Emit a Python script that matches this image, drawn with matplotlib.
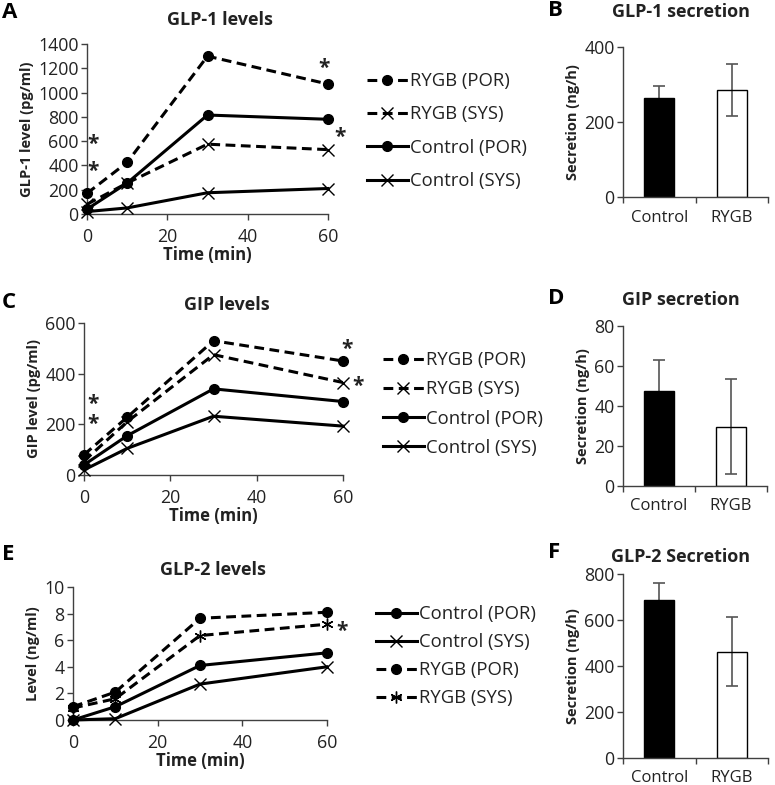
import matplotlib
matplotlib.use("Agg")
import matplotlib.pyplot as plt
from matplotlib.lines import Line2D

plt.rcParams['font.family'] = ['Open Sans', 'DejaVu Sans']

# time points (min)
time = [0, 10, 30, 60]

# GLP-1 levels (pg/ml)
glp1_rygb_por = [170, 425, 1300, 1070]
glp1_rygb_sys = [80, 255, 575, 530]
glp1_ctrl_por = [40, 255, 815, 780]
glp1_ctrl_sys = [20, 50, 175, 210]

# GIP levels (pg/ml)
gip_rygb_por = [80, 228, 530, 450]
gip_rygb_sys = [55, 210, 475, 365]
gip_ctrl_por = [40, 155, 340, 290]
gip_ctrl_sys = [20, 105, 232, 193]

# GLP-2 levels (ng/ml)
glp2_ctrl_por = [0, 1.0, 4.1, 5.05]
glp2_ctrl_sys = [0, 0.1, 2.7, 4.0]
glp2_rygb_por = [1.0, 2.1, 7.65, 8.1]
glp2_rygb_sys = [0.9, 1.6, 6.35, 7.2]

# secretion bars (ng/h)
groups = ["Control", "RYGB"]
glp1_sec = [265, 285]
glp1_sec_err = [32, 70]
gip_sec = [47.5, 29.6]
gip_sec_err = [15.3, 23.7]
glp2_sec = [685, 462]
glp2_sec_err = [74, 150]

# significance stars (x, y) in data units
glp1_stars = [(1.5, 570), (1.5, 350), (59, 1195), (63, 630)]
gip_stars = [(2, 280), (2, 200), (61, 495), (63.5, 350)]
glp2_stars = [(63.5, 6.65)]

W, H = 775, 785
fig = plt.figure(figsize=(W / 100, H / 100), dpi=100)

AX_COL = "#404040"
TXT = "#222222"
DASH = (0, (3.2, 1.8))


def box(x0, x1, ytop, ybot):
    return [x0 / W, 1 - ybot / H, (x1 - x0) / W, (ybot - ytop) / H]


def style(ax):
    for s in ["top", "right"]:
        ax.spines[s].set_visible(False)
    for s in ["left", "bottom"]:
        ax.spines[s].set_color(AX_COL)
        ax.spines[s].set_linewidth(1.0)
    ax.tick_params(colors=AX_COL, labelcolor=TXT, labelsize=12.8, length=4, width=1.0)
    ax.tick_params(axis="x", pad=6)
    ax.tick_params(axis="y", pad=2)


def marker_kw(marker):
    if marker == "o":
        return dict(marker="o", ms=7)
    return dict(marker=marker, ms=8.5, mew=1.0, mec="black")


def series(ax, y, dashed, marker):
    ls = DASH if dashed else "-"
    ax.plot(time, y, ls=ls, color="black", lw=2.2, clip_on=False, zorder=3, **marker_kw(marker))


def line_panel(rect, title, ylabel, ylim, yticks, lines, stars, letter, letter_y, title_y):
    ax = fig.add_axes(rect)
    style(ax)
    for y, dashed, marker in lines:
        series(ax, y, dashed, marker)
    for sx, sy in stars:
        ax.text(sx, sy, "*", fontsize=15, fontweight="bold", ha="center", va="center", color=TXT)
    ax.set_xlim(0, 60)
    ax.set_ylim(*ylim)
    ax.set_xticks([0, 20, 40, 60])
    ax.set_yticks(yticks)
    ax.set_xlabel("Time (min)", fontsize=12, fontweight="bold", color=TXT, labelpad=0)
    ax.set_ylabel(ylabel, fontsize=10.5, fontweight="bold", color=TXT, labelpad=3)
    fig.text(rect[0] + rect[2] * 0.55, title_y, title, fontsize=13, fontweight="bold",
             ha="center", va="center", color=TXT)
    fig.text(0.002, letter_y, letter, fontsize=16, fontweight="bold", ha="left", va="center")
    return ax


def legend(labels, styles, x, y, spacing):
    handles = []
    for dashed, marker in styles:
        ls = DASH if dashed else "-"
        handles.append(Line2D([], [], ls=ls, color="black", lw=2.2, **marker_kw(marker)))
    fig.legend(handles, labels, loc="upper left", bbox_to_anchor=(x, y), frameon=False,
               fontsize=13.3, handlelength=2.2, handletextpad=0.15, labelspacing=spacing,
               borderpad=0, borderaxespad=0, labelcolor=TXT)


def bar_panel(rect, title, vals, errs, ylim, yticks, letter, letter_y, title_y):
    ax = fig.add_axes(rect)
    style(ax)
    xs = list(range(len(groups)))
    # error bars sit behind the bars; the open bar is transparent so its bar shows
    ax.errorbar(xs, vals, yerr=errs, fmt="none", ecolor="#555555", elinewidth=1.2,
                capsize=4, capthick=1.2, zorder=1)
    ax.bar(xs, vals, width=0.42, color=["black", "none"], edgecolor="black", lw=1.0, zorder=2)
    ax.set_xlim(-0.5, 1.5)
    ax.set_ylim(*ylim)
    ax.set_yticks(yticks)
    ax.set_xticks([-0.5, 0.5, 1.5])
    ax.set_xticklabels([])
    ax.set_xticks(xs, minor=True)
    ax.set_xticklabels(groups, minor=True)
    ax.tick_params(axis="x", which="minor", length=0, labelsize=12, labelcolor=TXT, pad=9)
    ax.set_ylabel("Secretion (ng/h)", fontsize=10.5, fontweight="bold", color=TXT, labelpad=3)
    fig.text(rect[0] + rect[2] * 0.4, title_y, title, fontsize=13, fontweight="bold",
             ha="center", va="center", color=TXT)
    fig.text(548 / W, letter_y, letter, fontsize=16, fontweight="bold", ha="left", va="center")
    return ax


# A: GLP-1 levels
line_panel(box(87, 328, 44, 214), "GLP-1 levels", "GLP-1 level (pg/ml)", (0, 1400),
           range(0, 1401, 200),
           [(glp1_rygb_por, True, "o"), (glp1_rygb_sys, True, "x"),
            (glp1_ctrl_por, False, "o"), (glp1_ctrl_sys, False, "x")],
           glp1_stars, "A", 1 - 12 / H, 1 - 20 / H)
legend(["RYGB (POR)", "RYGB (SYS)", "Control (POR)", "Control (SYS)"],
       [(True, "o"), (True, "x"), (False, "o"), (False, "x")], 367 / W, 1 - 72 / H, 0.83)

# C: GIP levels
line_panel(box(84, 343, 323, 475), "GIP levels", "GIP level (pg/ml)", (0, 600),
           range(0, 601, 200),
           [(gip_rygb_por, True, "o"), (gip_rygb_sys, True, "x"),
            (gip_ctrl_por, False, "o"), (gip_ctrl_sys, False, "x")],
           gip_stars, "C", 1 - 303 / H, 1 - 305 / H)
legend(["RYGB (POR)", "RYGB (SYS)", "Control (POR)", "Control (SYS)"],
       [(True, "o"), (True, "x"), (False, "o"), (False, "x")], 383 / W, 1 - 351 / H, 0.61)

# E: GLP-2 levels
line_panel(box(73, 327, 587, 720), "GLP-2 levels", "Level (ng/ml)", (0, 10),
           range(0, 11, 2),
           [(glp2_ctrl_por, False, "o"), (glp2_ctrl_sys, False, "x"),
            (glp2_rygb_por, True, "o"), (glp2_rygb_sys, True, (6, 2, 0))],
           glp2_stars, "E", 1 - 555 / H, 1 - 570 / H)
legend(["Control (POR)", "Control (SYS)", "RYGB (POR)", "RYGB (SYS)"],
       [(False, "o"), (False, "x"), (True, "o"), (True, (6, 2, 0))], 376 / W, 1 - 605 / H, 0.55)

# B, D, F: secretion
bar_panel(box(623, 768, 47, 197), "GLP-1 secretion", glp1_sec, glp1_sec_err, (0, 400),
          [0, 200, 400], "B", 1 - 10 / H, 1 - 12 / H)
bar_panel(box(623, 767, 326, 486), "GIP secretion", gip_sec, gip_sec_err, (0, 80),
          range(0, 81, 20), "D", 1 - 299 / H, 1 - 300 / H)
bar_panel(box(623, 768, 574, 758), "GLP-2 Secretion", glp2_sec, glp2_sec_err, (0, 800),
          range(0, 801, 200), "F", 1 - 553 / H, 1 - 557 / H)

fig.savefig("out.png", dpi=100)
